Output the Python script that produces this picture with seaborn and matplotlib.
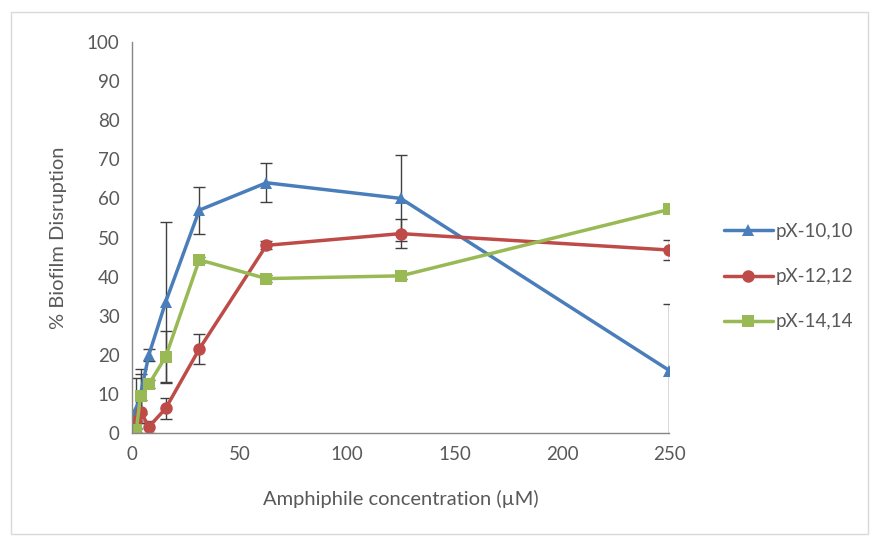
import numpy as np
import pandas as pd
import matplotlib
matplotlib.use("Agg")
import matplotlib.pyplot as plt
import seaborn as sns
from matplotlib.patches import Rectangle

# concentraciones (uM)
conc = [1.95, 3.9, 7.8, 15.6, 31.25, 62.5, 125, 250]

px10 = [6, 10, 20, 33.5, 57, 64, 60, 16]
px10_err = [8, 5, 1.5, 20.5, 6, 5, 11, 17]

px12 = [3, 5.5, 1.6, 6.3, 21.5, 48, 51, 46.8]
px12_err = [2, 3, 1.5, 2.7, 3.8, 1, 3.8, 2.5]

px14 = [0.8, 9.5, 12.5, 19.5, 44.3, 39.5, 40.2, 57.2]
px14_err = [0.5, 7, 1, 6.6, 0.8, 0.8, 0.8, 0.8]

series = ["pX-10,10", "pX-12,12", "pX-14,14"]
colores = ["#4A7EBB", "#BE4B48", "#98B954"]
marcadores = ["^", "o", "s"]

df = pd.DataFrame({
    "conc": conc * 3,
    "valor": px10 + px12 + px14,
    "err": px10_err + px12_err + px14_err,
    "serie": [s for s in series for _ in conc],
})

sns.set_style("white")
plt.rcParams["font.family"] = ["Lato", "DejaVu Sans"]

fig = plt.figure(figsize=(8.75, 5.38), dpi=100)
ax = fig.add_axes([0.151, 0.195, 0.614, 0.727])

# barras de error primero (debajo de las lineas)
for s, c in zip(series, colores):
    d = df[df["serie"] == s]
    ax.errorbar(d["conc"], d["valor"], yerr=d["err"], fmt="none",
                ecolor="#404040", elinewidth=1, capsize=4, capthick=1, zorder=1)

sns.lineplot(data=df, x="conc", y="valor", hue="serie", style="serie",
             palette=colores, markers=marcadores, dashes=False,
             markersize=9, linewidth=2.5, markeredgewidth=0, ax=ax, zorder=2)

ax.set_xlim(0, 250)
ax.set_ylim(0, 100)
ax.set_xticks([0, 50, 100, 150, 200, 250])
ax.set_yticks(range(0, 101, 10))
ax.tick_params(axis="both", length=0, labelsize=13.5, colors="#595959", pad=9)
ax.set_xlabel("Amphiphile concentration (\u00b5M)", fontsize=14.5, color="#595959", labelpad=20)
ax.set_ylabel("% Biofilm Disruption", fontsize=14.5, color="#595959", labelpad=14)

for lado in ["top", "right"]:
    ax.spines[lado].set_visible(False)
for lado in ["left", "bottom"]:
    ax.spines[lado].set_color("#868686")
    ax.spines[lado].set_linewidth(1)

leg = ax.legend(loc="center left", bbox_to_anchor=(1.07, 0.40), frameon=False,
                fontsize=13.5, labelspacing=1.5, handlelength=2.6, handletextpad=0.15)
for t in leg.get_texts():
    t.set_color("#595959")

fig.patches.append(Rectangle((0.012, 0.008), 0.98, 0.97, transform=fig.transFigure,
                             fill=False, edgecolor="#d9d9d9", linewidth=1))

fig.savefig("out.png", dpi=100)
